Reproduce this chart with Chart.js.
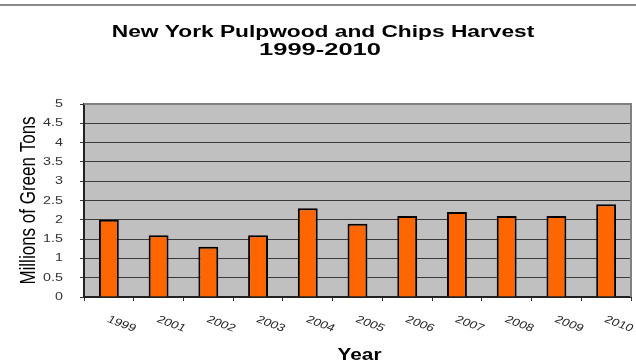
<!DOCTYPE html>
<html>
<head>
<meta charset="utf-8">
<script src="https://cdn.jsdelivr.net/npm/chart.js@4"></script>
<style>
  html, body { margin: 0; padding: 0; background: #fff; }
  #wrap { width: 636px; height: 362px; position: relative; }
</style>
</head>
<body>
<div id="wrap"><canvas id="harvest" width="636" height="362"></canvas></div>
<script>
// Data
var years = ['1999', '2001', '2002', '2003', '2004', '2005', '2006', '2007', '2008', '2009', '2010'];
var harvest = [2.0, 1.6, 1.3, 1.6, 2.3, 1.9, 2.1, 2.2, 2.1, 2.1, 2.4];
var yTicks = [0, 0.5, 1, 1.5, 2, 2.5, 3, 3.5, 4, 4.5, 5];
var titleLines = ['New York Pulpwood and Chips Harvest', '1999-2010'];
var xTitle = 'Year';
var yTitle = 'Millions of Green Tons';

var FONT = '"Liberation Sans", Arial, sans-serif';

// The original picture is stretched sideways, so all text is drawn wider.
function _drawWide(ctx, text, x, y, sx, align) {
    ctx.save();
    ctx.translate(x, y);
    ctx.scale(sx, 1);
    ctx.textAlign = align;
    ctx.fillText(text, 0, 0);
    ctx.restore();
}

/**
 * Gray plot background, plot border and the frame line at the top.
 */
var plotBackground = {
    id: 'plotBackground',
    beforeDraw: function (chart) {
        var ctx = chart.ctx;
        var a = chart.chartArea;
        ctx.save();
        ctx.fillStyle = '#c0c0c0';
        ctx.fillRect(a.left, a.top, a.right - a.left, a.bottom - a.top);
        // frame line across the top of the image
        ctx.fillStyle = '#8a8a8a';
        ctx.fillRect(0, 4, chart.width, 2);
        ctx.restore();
    },
    afterDatasetsDraw: function (chart) {
        var ctx = chart.ctx;
        var a = chart.chartArea;
        ctx.save();
        ctx.strokeStyle = '#808080';
        ctx.lineWidth = 2;
        ctx.beginPath();
        ctx.moveTo(a.left, a.top);
        ctx.lineTo(a.right, a.top);
        ctx.lineTo(a.right, a.bottom);
        ctx.stroke();
        ctx.restore();
    }
};

/**
 * Titles and tick labels, placed from the chart's own scales.
 */
var wideText = {
    id: 'wideText',
    afterDraw: function (chart) {
        var ctx = chart.ctx;
        var xs = chart.scales.x;
        var ys = chart.scales.y;
        var a = chart.chartArea;
        var cx = (a.left + a.right) / 2;
        ctx.save();
        ctx.textBaseline = 'alphabetic';

        // chart title
        ctx.fillStyle = '#000';
        ctx.font = 'bold 16px ' + FONT;
        _drawWide(ctx, titleLines[0], 323, 37, 1.42, 'center');
        ctx.font = 'bold 17px ' + FONT;
        _drawWide(ctx, titleLines[1], 320, 55, 1.5, 'center');

        // x axis title
        ctx.font = 'bold 16px ' + FONT;
        _drawWide(ctx, xTitle, cx + 2, 360, 1.3, 'center');

        // y axis title (rotated, glyphs widened across the page)
        ctx.font = '17px ' + FONT;
        ctx.save();
        ctx.translate(35, (a.top + a.bottom) / 2);
        ctx.rotate(-Math.PI / 2);
        ctx.scale(1, 1.3);
        ctx.textAlign = 'center';
        ctx.fillText(yTitle, 0, 0);
        ctx.restore();

        // y tick labels
        ctx.fillStyle = '#333';
        ctx.font = '11px ' + FONT;
        ctx.textBaseline = 'middle';
        yTicks.forEach(function (v) {
            _drawWide(ctx, String(v), ys.left + 64 - 1, ys.getPixelForValue(v), 1.3, 'right');
        });

        // x tick labels, turned clockwise
        ctx.fillStyle = '#222';
        ctx.font = '10.5px ' + FONT;
        ctx.textAlign = 'left';
        years.forEach(function (y, i) {
            ctx.save();
            ctx.translate(xs.getPixelForValue(i) - 1, xs.top + 22);
            ctx.scale(1.3, 1);
            ctx.rotate(26 * Math.PI / 180);
            ctx.fillText(y, 0, 0);
            ctx.restore();
        });
        ctx.restore();
    }
};

new Chart(document.getElementById('harvest'), {
    type: 'bar',
    data: {
        labels: years,
        datasets: [{
            label: 'Harvest',
            data: harvest,
            backgroundColor: '#ff6600',
            borderColor: '#000',
            borderWidth: 2,
            barPercentage: 0.4,
            categoryPercentage: 1.0,
        }],
    },
    options: {
        responsive: false,
        animation: false,
        devicePixelRatio: 1,
        layout: { padding: { left: 0, right: 5, top: 104, bottom: 0 } },
        plugins: {
            legend: { display: false },
            tooltip: { enabled: false },
            title: { display: false },
        },
        scales: {
            x: {
                ticks: { display: false },
                grid: {
                    drawOnChartArea: false,
                    drawTicks: true,
                    tickLength: 4,
                    color: '#333',
                },
                border: { color: '#222', width: 2 },
                afterFit: function (scale) { scale.height = 65; },
            },
            y: {
                min: 0,
                max: 5,
                afterBuildTicks: function (scale) {
                    scale.ticks = yTicks.map(function (v) { return { value: v }; });
                },
                ticks: { display: false },
                grid: {
                    color: '#3a3a3a',
                    lineWidth: 1,
                    tickLength: 4,
                },
                border: { color: '#222', width: 2 },
                afterFit: function (scale) { scale.width = 84; },
            },
        },
    },
    plugins: [plotBackground, wideText],
});
</script>
</body>
</html>
